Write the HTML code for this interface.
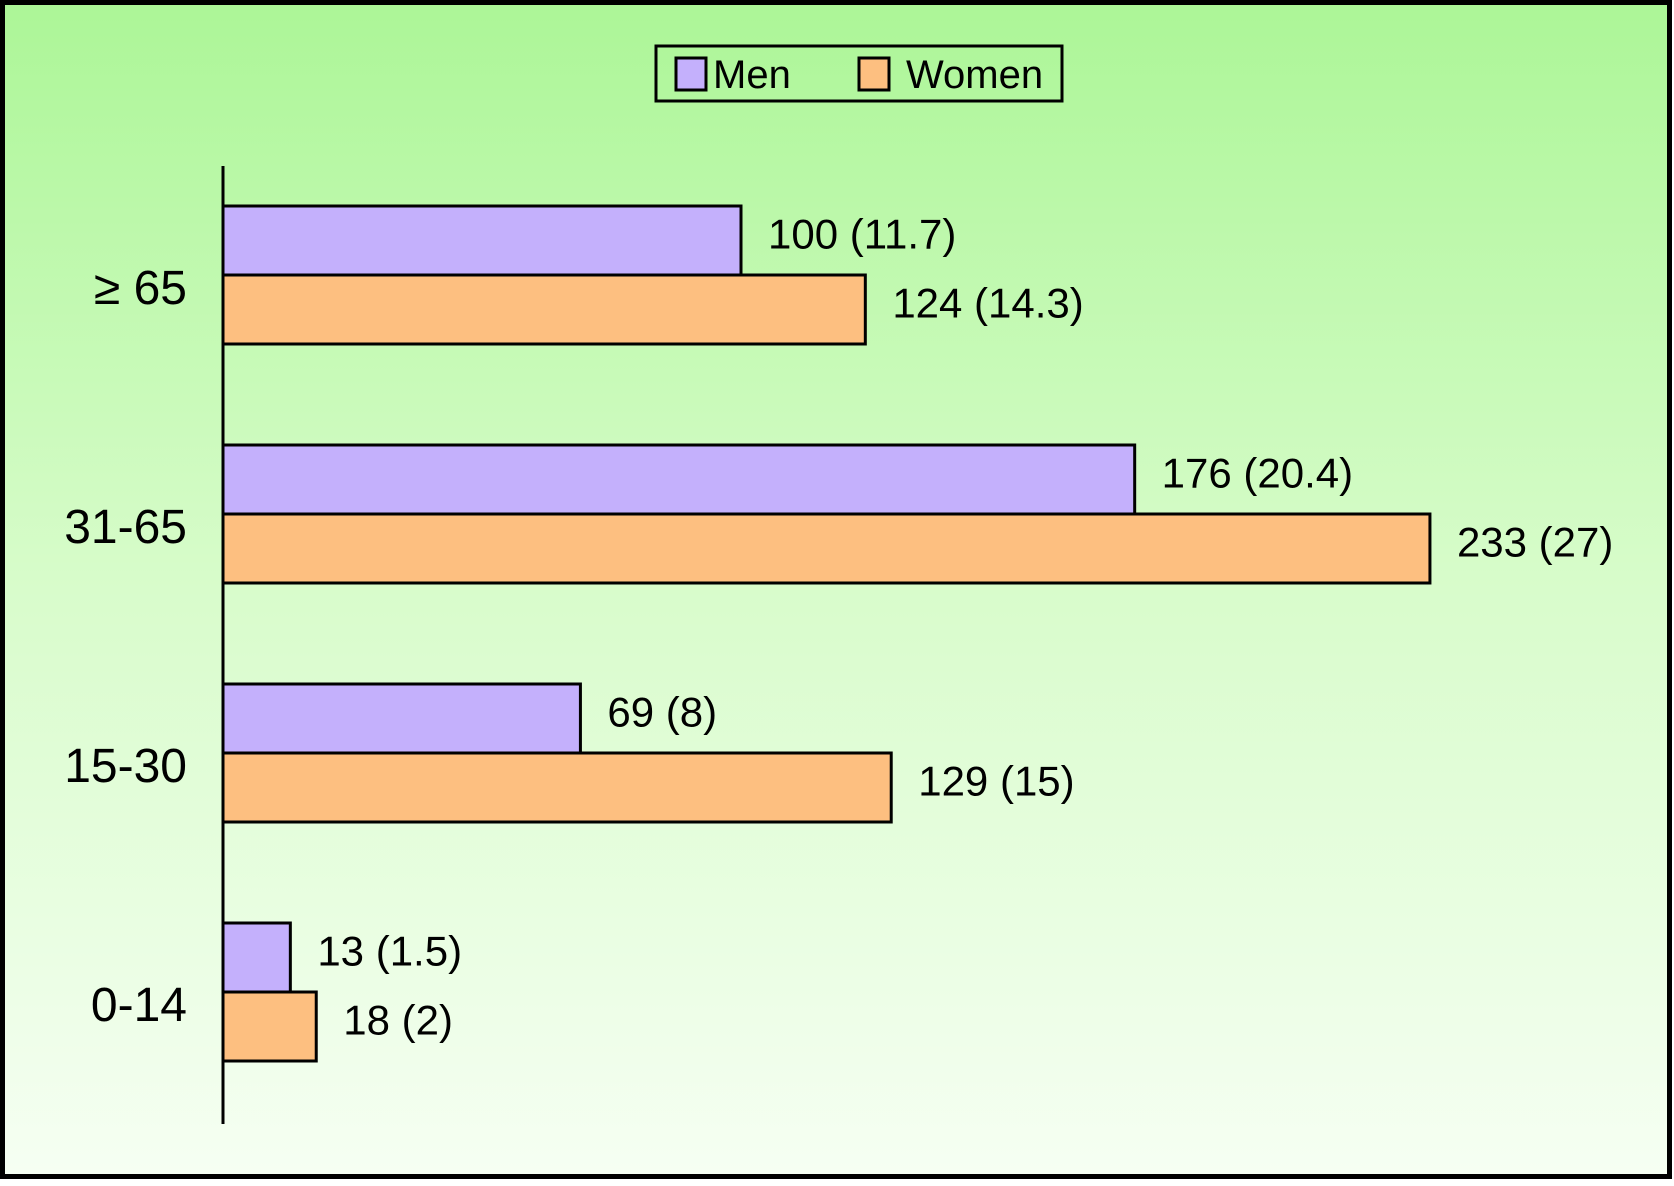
<!DOCTYPE html>
<html><head><meta charset="utf-8"><style>
html,body{margin:0;padding:0;}
body{width:1674px;height:1181px;overflow:hidden;}
</style></head><body>
<svg width="1674" height="1181" xmlns="http://www.w3.org/2000/svg" font-family="Liberation Sans, Arial, sans-serif">
<defs><linearGradient id="bg" x1="0" y1="0" x2="0" y2="1">
<stop offset="0" stop-color="#acf697"/><stop offset="0.5" stop-color="#d8fccb"/><stop offset="1" stop-color="#f6fff3"/></linearGradient></defs>
<rect x="2.5" y="2.5" width="1667" height="1174" fill="url(#bg)" stroke="#000" stroke-width="5"/>
<g>
<rect x="656" y="46" width="406" height="55" fill="none" stroke="#000" stroke-width="3"/>
<rect x="676" y="58" width="30" height="32" fill="#c4b0fc" stroke="#000" stroke-width="3"/>
<text x="713" y="88" font-size="40">Men</text>
<rect x="859" y="58" width="30" height="32" fill="#fdbf80" stroke="#000" stroke-width="3"/>
<text x="906" y="88" font-size="40">Women</text>
</g>
<g id="bars"></g>
<line x1="223" y1="166" x2="223" y2="1124" stroke="#000" stroke-width="3"/>
<script>
const categories = ["≥ 65", "31-65", "15-30", "0-14"];
const menValues = [100, 176, 69, 13];
const womenValues = [124, 233, 129, 18];
const menLabels = ["100 (11.7)", "176 (20.4)", "69 (8)", "13 (1.5)"];
const womenLabels = ["124 (14.3)", "233 (27)", "129 (15)", "18 (2)"];

const x0 = 223, pxPerUnit = 5.18;
function xScale(v){ return x0 + v * pxPerUnit; }
function groupTop(i){ return 206 + i * 239; }
const barH = 69;
const g = document.getElementById('bars');
const NS = 'http://www.w3.org/2000/svg';
function mk(tag, attrs){ const e=document.createElementNS(NS,tag); for(const k in attrs) e.setAttribute(k,attrs[k]); return e; }

categories.forEach((c,i)=>{
  const top = groupTop(i);
  const series = [[menValues[i], menLabels[i], '#c4b0fc', 'men'], [womenValues[i], womenLabels[i], '#fdbf80', 'women']];
  series.forEach((s,j)=>{
    const y = top + j*barH;
    const r = mk('rect',{x:x0, y:y, width:xScale(s[0])-x0, height:barH, fill:s[2], stroke:'#000', 'stroke-width':3});
    
    
    g.appendChild(r);
    const t = mk('text',{x:xScale(s[0])+27, y:y+barH/2+8, 'font-size':42});
    t.textContent = s[1];
    
    
    g.appendChild(t);
  });
  const l = mk('text',{x:187, y:top+barH+29, 'font-size':48, 'text-anchor':'end'});
  l.textContent = c;
  
  
  g.appendChild(l);
});
</script>
</svg>
</body></html>
